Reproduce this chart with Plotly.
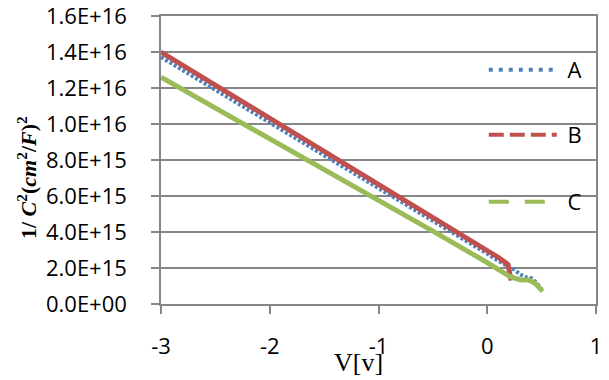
import plotly.graph_objects as go

# Series A (blue, dotted)
a_v = [-3.0, -2.5, -2.0, -1.5, -1.0, -0.5, 0.0, 0.1, 0.2, 0.25, 0.3, 0.35, 0.4, 0.45, 0.5]
a_y = [1.372e16, 1.19e16, 1.01e16, 8.3e15, 6.45e15, 4.6e15, 2.8e15, 2.4e15, 2.05e15, 1.9e15,
       1.65e15, 1.5e15, 1.45e15, 1.2e15, 0.8e15]

# Series B (red)
b_v = [-3.0, -2.5, -2.0, -1.5, -1.0, -0.5, 0.0, 0.1, 0.19, 0.22]
b_y = [1.40e16, 1.217e16, 1.033e16, 8.5e15, 6.67e15, 4.83e15, 3.0e15, 2.6e15, 2.2e15, 1.3e15]

# Series C (green)
c_v = [-3.0, -2.5, -2.0, -1.5, -1.0, -0.5, 0.0, 0.1, 0.2, 0.26, 0.3, 0.38, 0.44, 0.51]
c_y = [1.26e16, 1.09e16, 9.2e15, 7.5e15, 5.8e15, 4.05e15, 2.3e15, 1.9e15, 1.55e15, 1.42e15,
       1.35e15, 1.33e15, 1.15e15, 0.7e15]

y_tick_vals = [0, 2e15, 4e15, 6e15, 8e15, 1.0e16, 1.2e16, 1.4e16, 1.6e16]
y_tick_text = ["0.0E+00", "2.0E+15", "4.0E+15", "6.0E+15", "8.0E+15",
               "1.0E+16", "1.2E+16", "1.4E+16", "1.6E+16"]
x_tick_vals = [-3, -2, -1, 0, 1]
x_tick_text = ["-3", "-2", "-1", "0", "1"]

names = ["A", "B", "C"]
colors = ["#4F81BD", "#C0504D", "#9BBB59"]

FONT = "Open Sans"
GRID = "#868686"

fig = go.Figure()

fig.add_trace(go.Scatter(x=a_v, y=a_y, mode="lines", showlegend=False,
                         line=dict(color=colors[0], width=4, dash="3px,2px")))
fig.add_trace(go.Scatter(x=b_v, y=b_y, mode="lines", showlegend=False,
                         line=dict(color=colors[1], width=5)))
fig.add_trace(go.Scatter(x=c_v, y=c_y, mode="lines", showlegend=False,
                         line=dict(color=colors[2], width=5)))

# legend-only entries
legend_dash = ["4px,6px", "15px,6px", "20px,16px"]
legend_ids = ["legend", "legend2", "legend3"]
for i in range(3):
    fig.add_trace(go.Scatter(x=[None], y=[None], mode="lines", name="\u00a0" + names[i],
                             legend=legend_ids[i], showlegend=True,
                             line=dict(color=colors[i], width=4, dash=legend_dash[i])))

leg_common = dict(bgcolor="rgba(0,0,0,0)", font=dict(family=FONT, size=22, color="#000000"),
                  xanchor="left", yanchor="middle", itemwidth=68, x=0.742)
fig.update_layout(
    legend=dict(y=(304 - 70) / 288, **leg_common),
    legend2=dict(y=(304 - 135) / 288, **leg_common),
    legend3=dict(y=(304 - 202) / 288, **leg_common),
)

# page body has an 8px margin, so the figure is offset by (8, 8)
fig.update_layout(
    width=601, height=372,
    margin=dict(l=153, r=13, t=8, b=76),
    paper_bgcolor="#FFFFFF", plot_bgcolor="#FFFFFF",
    font=dict(family=FONT, size=22, color="#000000"),
    xaxis=dict(range=[-3, 1], tickvals=x_tick_vals, ticktext=x_tick_text, automargin=False,
               showgrid=False, zeroline=False, showline=True, linecolor=GRID, linewidth=1.5,
               mirror=True, ticklabeloverflow="allow",
               ticks="outside", ticklen=8, tickcolor=GRID, tickwidth=1.5,
               ticklabelstandoff=14, tickfont=dict(family=FONT, size=22)),
    yaxis=dict(range=[0, 1.6003e16], tickvals=y_tick_vals, ticktext=y_tick_text, automargin=False,
               showgrid=True, gridcolor=GRID, gridwidth=1.5, zeroline=False,
               showline=True, linecolor=GRID, linewidth=1.5, mirror=True,
               ticklabeloverflow="allow",
               ticks="outside", ticklen=8, tickcolor=GRID, tickwidth=1.5,
               ticklabelstandoff=20, tickfont=dict(family=FONT, size=22)),
)

fig.add_annotation(text="V[v]", xref="paper", yref="paper", x=(358 - 161) / 435, y=-(362 - 304) / 288,
                   showarrow=False, xanchor="center", yanchor="middle",
                   font=dict(family="Liberation Serif", size=26, color="#000000"))
fig.add_annotation(text="<b>1/ <i>C</i><sup>2</sup>(<i>cm</i><sup>2</sup>/<i>F</i>)<sup>2</sup></b>",
                   xref="paper", yref="paper", x=-(161 - 27) / 435, y=(304 - 178) / 288,
                   textangle=-90, showarrow=False, xanchor="center", yanchor="middle",
                   font=dict(family="Liberation Serif", size=22, color="#000000"))

fig.write_html("out.html")
